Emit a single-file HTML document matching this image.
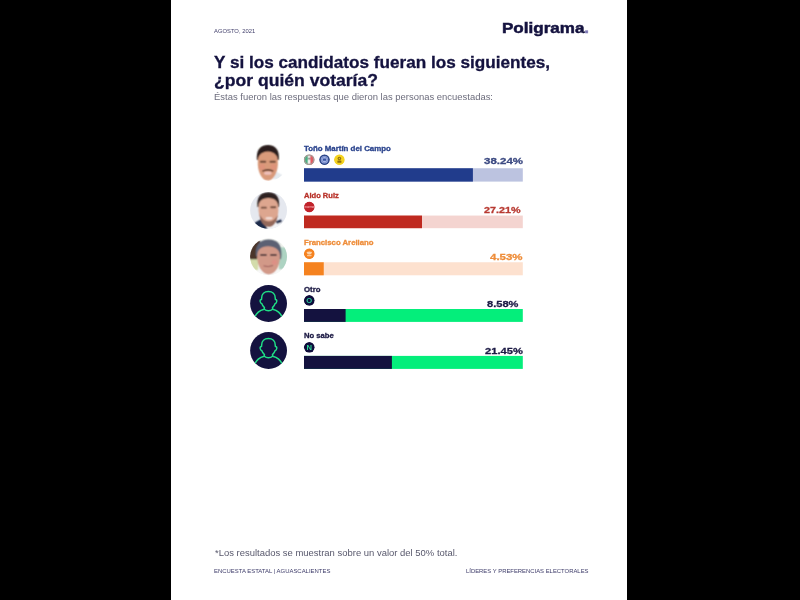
<!DOCTYPE html>
<html lang="es">
<head>
<meta charset="utf-8">
<title>Poligrama</title>
<style>
html,body{margin:0;padding:0;}
body{width:800px;height:600px;background:#000;overflow:hidden;position:relative;font-family:"Liberation Sans",sans-serif;}
#page{position:absolute;left:171px;top:0;width:456px;height:600px;background:#fff;}
#gfx{position:absolute;left:0;top:0;display:block;}
#gfx text{font-family:"Liberation Sans",sans-serif;font-weight:bold;}
.t{position:absolute;white-space:nowrap;transform-origin:0 0;line-height:1;display:inline-block;}
.b{font-weight:bold;-webkit-text-stroke:0.3px currentColor;}
#logo{-webkit-text-stroke:0.5px currentColor;}
</style>
</head>
<body>
<div id="page">
<svg id="gfx" width="456" height="600" viewBox="171 0 456 600">
<defs>
<filter id="soft" x="-10%" y="-10%" width="120%" height="120%"><feConvolveMatrix order="3" kernelMatrix="1 2 1 2 5 2 1 2 1" edgeMode="duplicate"/></filter>
<filter id="soft2" x="-10%" y="-10%" width="120%" height="120%"><feConvolveMatrix order="3" kernelMatrix="1 2 1 2 8 2 1 2 1" edgeMode="duplicate"/></filter>
<clipPath id="avc"><circle cx="18.5" cy="18.5" r="18.45"/></clipPath>
<clipPath id="icc"><circle cx="5.3" cy="5.3" r="5.4"/></clipPath>
</defs>
<rect x="304.0" y="168.25" width="218.80" height="13.35" fill="#bcc3e0"/><rect x="304.0" y="168.25" width="168.90" height="13.35" fill="#213c8c"/>
<g transform="translate(250.05 144.00)" clip-path="url(#avc)"><g filter="url(#soft)">
<path d="M25 27 L33 31.5 L31 36 L23 35 Z" fill="#e4e9ee"/>
<path d="M6.9 16 C5.8 6.5 10 1 17.8 1 C25.6 1 29.8 6.5 28.7 16 Z" fill="#2a1f1b"/>
<path d="M7.8 17 C7.8 11.5 11 7.8 17.8 7.4 C24.5 7.8 27.8 11.5 27.8 17 C28.6 27 24 36.6 17.8 36.6 C11.6 36.6 7 27 7.8 17 Z" fill="#d99a7a"/>
<ellipse cx="12" cy="23" rx="3" ry="3" fill="#e0907a" opacity="0.7"/>
<ellipse cx="23.6" cy="23" rx="3" ry="3" fill="#e0907a" opacity="0.7"/>
<rect x="9.8" y="16.8" width="6.4" height="2" rx="1" fill="#6a4636"/>
<rect x="19.4" y="16.8" width="6.4" height="2" rx="1" fill="#6a4636"/>
<path d="M12 26.6 Q17.8 23.4 23.6 26.6 L23 27.8 Q17.8 25.8 12.6 27.8 Z" fill="#5a3528"/>
<ellipse cx="17.8" cy="29.2" rx="3.8" ry="1.6" fill="#eec0ba"/>
</g></g>
<g transform="translate(303.90 154.40)" clip-path="url(#icc)"><circle cx="5.3" cy="5.3" r="5.5" fill="#a89a96"/><g filter="url(#soft2)"><rect x="1.2" y="1.2" width="2.9" height="8.2" fill="#46b283"/><rect x="4.1" y="1.2" width="2.4" height="8.2" fill="#ffffff"/><rect x="6.5" y="1.2" width="2.9" height="8.2" fill="#e4525a"/><circle cx="5.3" cy="4.2" r="0.9" fill="#3a2a2a"/></g><circle cx="5.3" cy="5.3" r="4.8" fill="none" stroke="#a89a96" stroke-width="1.3"/></g>
<g transform="translate(319.20 154.40)" clip-path="url(#icc)"><circle cx="5.3" cy="5.3" r="5.5" fill="#2f488a"/><circle cx="5.3" cy="5.3" r="3.7" fill="#aab9ea"/><circle cx="5.3" cy="5.3" r="3.0" fill="none" stroke="#4560a8" stroke-width="0.5"/><rect x="3.6" y="4.2" width="3.4" height="2.2" rx="0.5" fill="#3a55a0"/></g>
<g transform="translate(334.10 154.40)" clip-path="url(#icc)"><circle cx="5.3" cy="5.3" r="5.5" fill="#f5d31f"/><circle cx="5.3" cy="4.1" r="1.8" fill="#8f7010"/><circle cx="5.3" cy="4.1" r="0.7" fill="#e8c020"/><rect x="3.3" y="6.1" width="4" height="2.2" rx="0.5" fill="#8f7010"/></g>
<rect x="304.0" y="215.55" width="218.80" height="12.65" fill="#f4d4d0"/><rect x="304.0" y="215.55" width="118.00" height="12.65" fill="#bf2a20"/>
<g transform="translate(250.05 191.90)" clip-path="url(#avc)"><rect width="37" height="37" fill="#e5e8ef"/>
<g filter="url(#soft)">
<path d="M2 38 L5 30.5 L13 26 L19 38 Z" fill="#1a2a4a"/>
<path d="M22 30 L30 27.5 L33 31 L28 38 L21 38 Z" fill="#f3f4f7"/>
<path d="M25.5 29.6 L30.8 27.4 L32 30 L27 31.8 Z" fill="#1f2f50"/>
<path d="M13 28 L18 38 L26 38 L24 29 Z" fill="#f4f5f8"/>
<path d="M7.4 15 C6.4 5.5 10.5 0.4 18.2 0.4 C26 0.4 30 5.5 28.9 15 Z" fill="#2e2320"/>
<path d="M8.4 15 C8.6 9.5 11.5 6.4 18.4 6 C25 6.4 28.2 9.5 28.2 15 C29 25 25 35 19 35 C13 35 8 25 8.4 15 Z" fill="#dda68f"/>
<path d="M9.3 22 Q10.5 33 19 35.2 Q26 34 27.8 23 Q24 29.5 18.8 29.5 Q13 29.5 9.3 22 Z" fill="#94695a"/>
<rect x="10.8" y="14.8" width="6" height="1.9" rx="0.9" fill="#6f4a3a"/>
<rect x="20.2" y="14.4" width="6" height="1.9" rx="0.9" fill="#6f4a3a"/>
<ellipse cx="19" cy="26.4" rx="3.6" ry="1.3" fill="#f0dcd6"/>
</g></g>
<g transform="translate(304.00 201.70)" clip-path="url(#icc)"><circle cx="5.3" cy="5.3" r="5.5" fill="#c1232b"/><text x="5.3" y="6.1" font-size="2.6" text-anchor="middle" fill="#f7a9ad">morena</text></g>
<rect x="304.0" y="262.25" width="218.80" height="13.05" fill="#fde1cf"/><rect x="304.0" y="262.25" width="19.75" height="13.05" fill="#f5821f"/>
<g transform="translate(250.05 238.30)" clip-path="url(#avc)"><rect width="37" height="37" fill="#f1f3ee"/>
<g filter="url(#soft)">
<rect x="29" y="9" width="9" height="22" fill="#add3c2"/>
<rect x="-1" y="18" width="9" height="14" fill="#d3dcab"/>
<path d="M-1 21 L-1 5 L9 0 L11 8 L7 21 Z" fill="#4b3629"/>
<rect x="-1" y="32" width="39" height="8" fill="#f8f8f8"/>
<path d="M6 18 C4.5 8 9 1.2 18.5 1.2 C28.5 1.2 33 8 31 21 Z" fill="#5b6173"/>
<path d="M7.2 17 C7.4 11.5 11 8.4 18 8 C25 8.4 29.6 11.5 29.8 17 C30.6 27 25.5 36.2 18.6 36.2 C12 36.2 6.6 27 7.2 17 Z" fill="#d29988"/>
<rect x="10" y="15.6" width="6.8" height="2" rx="1" fill="#5a4040"/>
<rect x="20" y="15.6" width="6.8" height="2" rx="1" fill="#5a4040"/>
<path d="M13.5 27.6 Q18 29.2 23 27.2" stroke="#9a5a58" stroke-width="1" fill="none"/>
<ellipse cx="24.4" cy="24" rx="2.6" ry="2.6" fill="#e58a84" opacity="0.6"/>
</g></g>
<g transform="translate(304.00 248.40)" clip-path="url(#icc)"><circle cx="5.3" cy="5.3" r="5.5" fill="#f5821f"/><path d="M2.4 3.6 Q5.3 2.6 8.2 3.6 L7.2 5 L8 5.2 L5.3 6 L2.6 5.2 L3.4 5 Z" fill="#fcd2a8"/><rect x="3" y="6.4" width="4.6" height="1.4" rx="0.4" fill="#fbc592"/></g>
<rect x="304.0" y="309.0" width="218.80" height="12.90" fill="#04ee7b"/><rect x="304.0" y="309.0" width="41.60" height="12.90" fill="#14123f"/>
<g transform="translate(250.05 285.00)" clip-path="url(#avc)"><rect width="37" height="37" fill="#14123f"/>
<g fill="none" stroke="#1fe086" stroke-width="1.45" stroke-linecap="round" stroke-linejoin="round">
<path d="M4.9 32 C6.4 27.6 9.8 25.3 14.2 24.2 M31.9 32 C30.4 27.6 27 25.3 22.6 24.2"/>
<path d="M18.4 6.5 C22.6 6.5 25.2 9.2 25.2 13 L25.3 14.4 C26.4 14.4 26.9 15.3 26.7 16.5 C26.5 17.8 25.9 18.5 25.1 18.5 C24.5 20.4 23.6 21.6 22.4 22.6 L22.6 24.2 C21.4 25.3 19.9 25.8 18.4 25.8 C16.9 25.8 15.4 25.3 14.2 24.2 L14.4 22.6 C13.2 21.6 12.3 20.4 11.7 18.5 C10.9 18.5 10.3 17.8 10.1 16.5 C9.9 15.3 10.4 14.4 11.5 14.4 L11.6 13 C11.6 9.2 14.2 6.5 18.4 6.5 Z"/>
</g></g>
<g transform="translate(304.00 295.15)" clip-path="url(#icc)"><circle cx="5.3" cy="5.3" r="5.5" fill="#0e0c3b"/><text x="5.3" y="8.05" font-size="7.6" text-anchor="middle" fill="#2cc79a">O</text></g>
<rect x="304.0" y="355.9" width="218.80" height="13.00" fill="#04ee7b"/><rect x="304.0" y="355.9" width="87.90" height="13.00" fill="#14123f"/>
<g transform="translate(250.05 332.00)" clip-path="url(#avc)"><rect width="37" height="37" fill="#14123f"/>
<g fill="none" stroke="#1fe086" stroke-width="1.45" stroke-linecap="round" stroke-linejoin="round">
<path d="M4.9 32 C6.4 27.6 9.8 25.3 14.2 24.2 M31.9 32 C30.4 27.6 27 25.3 22.6 24.2"/>
<path d="M18.4 6.5 C22.6 6.5 25.2 9.2 25.2 13 L25.3 14.4 C26.4 14.4 26.9 15.3 26.7 16.5 C26.5 17.8 25.9 18.5 25.1 18.5 C24.5 20.4 23.6 21.6 22.4 22.6 L22.6 24.2 C21.4 25.3 19.9 25.8 18.4 25.8 C16.9 25.8 15.4 25.3 14.2 24.2 L14.4 22.6 C13.2 21.6 12.3 20.4 11.7 18.5 C10.9 18.5 10.3 17.8 10.1 16.5 C9.9 15.3 10.4 14.4 11.5 14.4 L11.6 13 C11.6 9.2 14.2 6.5 18.4 6.5 Z"/>
</g></g>
<g transform="translate(304.00 342.05)" clip-path="url(#icc)"><circle cx="5.3" cy="5.3" r="5.5" fill="#0e0c3b"/><text x="5.3" y="8.05" font-size="7.6" text-anchor="middle" fill="#2fd99a">N</text></g>
</svg>
<span class="t" id="date" style="left:43.40px;top:28.69px;font-size:5.8px;color:#403e6a;transform:scaleX(1.0091);">AGOSTO, 2021</span>
<span class="t b" id="logo" style="left:330.90px;top:19.80px;font-size:15.0px;color:#14123f;transform:scaleX(1.1355);">Poligrama<span style="color:#7d78b5">.</span></span>
<span class="t b" id="h1" style="left:42.90px;top:54.83px;font-size:15.8px;color:#14123f;transform:scaleX(1.0853);">Y si los candidatos fueran los siguientes,</span>
<span class="t b" id="h2" style="left:42.60px;top:72.93px;font-size:15.8px;color:#14123f;transform:scaleX(1.1122);">¿por quién votaría?</span>
<span class="t" id="sub" style="left:43.20px;top:93.28px;font-size:9px;color:#6c6c7c;transform:scaleX(1.0502);">Éstas fueron las respuestas que dieron las personas encuestadas:</span>
<span class="t" id="note" style="left:43.60px;top:548.58px;font-size:9px;color:#58586c;transform:scaleX(1.0510);">*Los resultados se muestran sobre un valor del 50% total.</span>
<span class="t" id="f1" style="left:42.75px;top:568.89px;font-size:5.8px;color:#3d3b69;transform:scaleX(1.0241);">ENCUESTA ESTATAL | AGUASCALIENTES</span>
<span class="t" id="f2" style="left:294.50px;top:568.89px;font-size:5.8px;color:#3d3b69;transform:scaleX(1.0166);">LÍDERES Y PREFERENCIAS ELECTORALES</span>
<span class="t b" id="n0" style="left:133.20px;top:146.06px;font-size:6.9px;color:#2c458e;transform:scaleX(1.1412);">Toño Martín del Campo</span>
<span class="t b" id="p0" style="left:312.60px;top:155.62px;font-size:9.9px;color:#3c4a82;transform:scaleX(1.1642);">38.24%</span>
<span class="t b" id="n1" style="left:133.20px;top:192.81px;font-size:6.9px;color:#b8322a;transform:scaleX(1.0950);">Aldo Ruiz</span>
<span class="t b" id="p1" style="left:312.80px;top:205.12px;font-size:9.9px;color:#b83a32;transform:scaleX(1.0925);">27.21%</span>
<span class="t b" id="n2" style="left:133.20px;top:239.81px;font-size:6.9px;color:#ee8d3a;transform:scaleX(1.1257);">Francisco Arellano</span>
<span class="t b" id="p2" style="left:318.80px;top:251.92px;font-size:9.9px;color:#ee8d3a;transform:scaleX(1.1636);">4.53%</span>
<span class="t b" id="n3" style="left:133.20px;top:286.56px;font-size:6.9px;color:#1d1b45;transform:scaleX(1.1274);">Otro</span>
<span class="t b" id="p3" style="left:316.00px;top:299.37px;font-size:9.9px;color:#1d1b45;transform:scaleX(1.1208);">8.58%</span>
<span class="t b" id="n4" style="left:133.20px;top:333.16px;font-size:6.9px;color:#1d1b45;transform:scaleX(1.1114);">No sabe</span>
<span class="t b" id="p4" style="left:314.20px;top:345.72px;font-size:9.9px;color:#1d1b45;transform:scaleX(1.1284);">21.45%</span>
</div>
</body>
</html>
